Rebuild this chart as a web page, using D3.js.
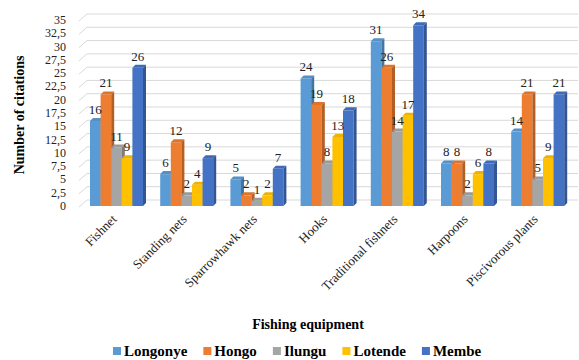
<!DOCTYPE html>
<html>
<head>
<meta charset="utf-8">
<script src="https://cdn.jsdelivr.net/npm/d3@7"></script>
<style>
  body { margin: 0; background: #fff; }
</style>
</head>
<body>
<script>
var width = 579,
    height = 360,
    depth = 3,
    font = 'Liberation Serif'

var categories = ['Fishnet', 'Standing nets', 'Sparrowhawk nets', 'Hooks', 'Traditional fishnets', 'Harpoons', 'Piscivorous plants']
var series = ['Longonye', 'Hongo', 'Ilungu', 'Lotende', 'Membe']
var colors = ['#5b9bd5', '#ed7d31', '#a5a5a5', '#ffc000', '#4472c4']

var longonye = [16, 6, 5, 24, 31, 8, 14]
var hongo    = [21, 12, 2, 19, 26, 8, 21]
var ilungu   = [11, 2, 1, 8, 14, 2, 5]
var lotende  = [9, 4, 2, 13, 17, 6, 9]
var membe    = [26, 9, 7, 18, 34, 8, 21]
var values = [longonye, hongo, ilungu, lotende, membe]

var yTicks = [0, 2.5, 5, 7.5, 10, 12.5, 15, 17.5, 20, 22.5, 25, 27.5, 30, 32.5, 35]

var x0 = d3.scaleBand()
    .domain(categories)
    .range([81.4, 572.8])
    .paddingInner(0.245)
    .paddingOuter(0.1225)

var x1 = d3.scaleBand()
    .domain(series)
    .range([0, x0.bandwidth()])

var y = d3.scaleLinear()
    .domain([0, 35])
    .range([206, 20])

var color = d3.scaleOrdinal().domain(series).range(colors)

var svg = d3.select('body').append('svg')
    .attr('width', width)
    .attr('height', height)
    .attr('font-family', font)

// gridlines with a little perspective
svg.append('g').selectAll('path')
  .data(yTicks)
  .join('path')
    .attr('d', function(d) {
      var yy = y(d)
      return 'M79,' + (yy + 1) + 'L87,' + (yy - 6) + 'L578,' + (yy - 6)
    })
    .attr('fill', 'none')
    .attr('stroke', '#d9d9d9')
    .attr('stroke-width', 1)

// y tick labels
var fmt = function(d) { return String(d).replace('.', ',') }
svg.append('g').selectAll('text')
  .data(yTicks)
  .join('text')
    .attr('x', 66)
    .attr('y', function(d) { return y(d) + 4 })
    .attr('text-anchor', 'end')
    .attr('font-size', 12)
    .attr('fill', '#222')
    .text(fmt)

// bars
var rows = []
categories.forEach(function(c, i) {
  series.forEach(function(s, j) {
    rows.push({cat: c, ser: s, value: values[j][i]})
  })
})

var bar = svg.append('g').selectAll('g')
  .data(rows)
  .join('g')

bar.each(function(d) {
  var g = d3.select(this)
  var bx = x0(d.cat) + x1(d.ser),
      bw = x1.bandwidth(),
      by = y(d.value),
      bh = y(0) - by,
      c = d3.color(color(d.ser))
  g.append('rect')
    .attr('x', bx).attr('y', by)
    .attr('width', bw).attr('height', bh)
    .attr('fill', c)
  g.append('path')
    .attr('d', 'M' + bx + ',' + by + 'L' + (bx + depth) + ',' + (by - depth) +
      'L' + (bx + bw + depth) + ',' + (by - depth) + 'L' + (bx + bw) + ',' + by + 'Z')
    .attr('fill', c.darker(0.2))
  g.append('path')
    .attr('d', 'M' + (bx + bw) + ',' + by + 'L' + (bx + bw + depth) + ',' + (by - depth) +
      'L' + (bx + bw + depth) + ',' + (by + bh - depth) + 'L' + (bx + bw) + ',' + (by + bh) + 'Z')
    .attr('fill', c.darker(0.8))
})

// value labels
svg.append('g').selectAll('text')
  .data(rows)
  .join('text')
    .attr('x', function(d) { return x0(d.cat) + x1(d.ser) + x1.bandwidth() / 2 })
    .attr('y', function(d) { return y(d.value) - 7 })
    .attr('text-anchor', 'middle')
    .attr('font-size', 13)
    .attr('fill', '#222')
    .text(function(d) { return d.value })

// category labels
svg.append('g').selectAll('text')
  .data(categories)
  .join('text')
    .attr('transform', function(d) {
      return 'translate(' + (x0(d) + x0.bandwidth() / 2 + 1) + ',220) rotate(-45)'
    })
    .attr('text-anchor', 'end')
    .attr('font-size', 13)
    .attr('fill', '#222')
    .text(function(d) { return d })

// axis titles
svg.append('text')
  .attr('transform', 'translate(24,115) rotate(-90)')
  .attr('text-anchor', 'middle')
  .attr('font-size', 14)
  .attr('font-weight', 'bold')
  .text('Number of citations')

svg.append('text')
  .attr('x', 308)
  .attr('y', 329)
  .attr('text-anchor', 'middle')
  .attr('font-size', 14)
  .attr('font-weight', 'bold')
  .text('Fishing equipment')

// legend
var legend = svg.append('g')
var lx = 113
series.forEach(function(s) {
  legend.append('rect')
    .attr('x', lx).attr('y', 347)
    .attr('width', 8).attr('height', 8)
    .attr('fill', color(s))
  var t = legend.append('text')
    .attr('x', lx + 11)
    .attr('y', 356)
    .attr('font-size', 15)
    .attr('font-weight', 'bold')
    .text(s)
  lx += 11 + t.node().getComputedTextLength() + 16
})
</script>
</body>
</html>
